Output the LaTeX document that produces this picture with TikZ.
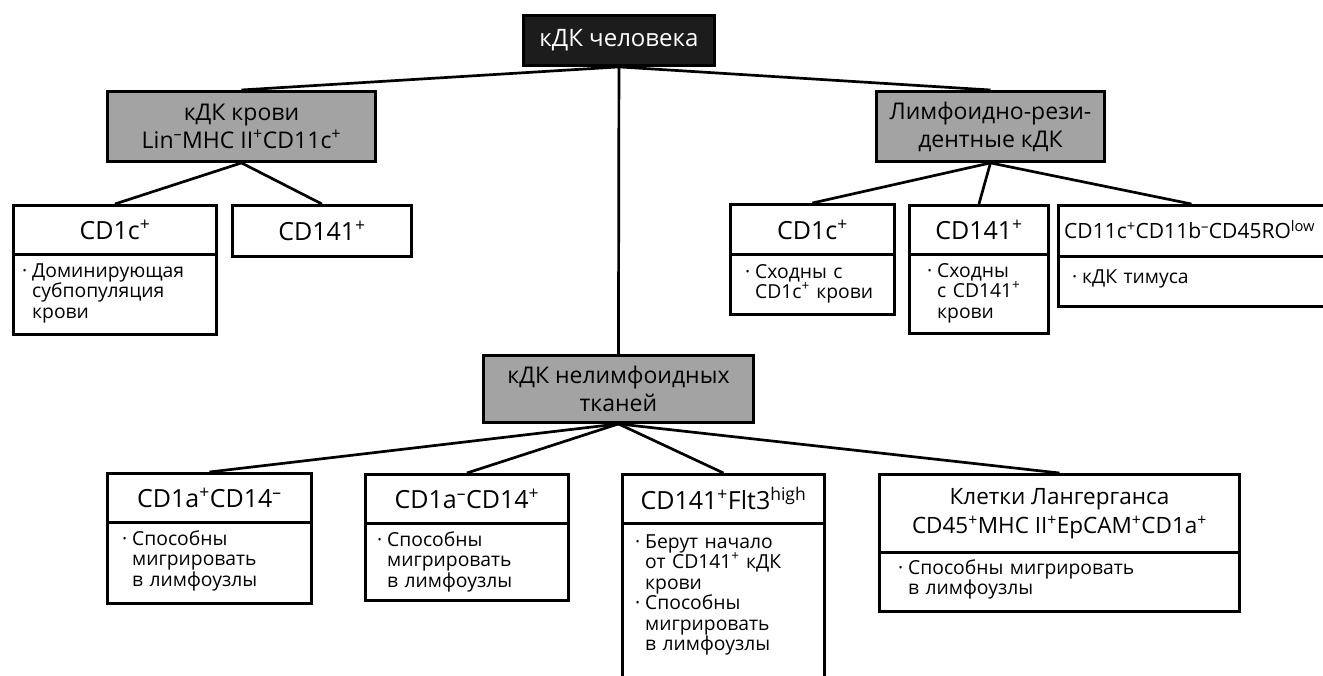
\documentclass[tikz,border=0pt]{standalone}
\usepackage{fontspec}
\setmainfont{Open Sans}
\usetikzlibrary{positioning}
\definecolor{boxgray}{RGB}{163,163,163}
\definecolor{rootblack}{RGB}{28,28,28}
\newcommand{\Pl}{\textsuperscript{+}}
\newcommand{\Mn}{\textsuperscript{–}}
\newcommand{\dotb}{\leavevmode\llap{·\hspace{5pt}}}

\begin{document}
\begin{tikzpicture}[x=1pt, y=-1pt,
  cell/.style={draw, line width=2.9pt, anchor=north west, inner sep=0pt,
    align=center, font={\fontsize{25}{28}\selectfont}},
  grp/.style={cell, fill=boxgray, font={\fontsize{23}{28}\selectfont}},
  note/.style={anchor=base west, inner sep=0pt, align=left, text width=#1,
    font={\fontsize{19.3}{20.5}\selectfont}},
  note/.default=200pt,
  link/.style={line width=2.7pt}]
  \clip (0,0) rectangle (1323,675);
  % top level
  \node[cell, fill=rootblack, text=white, minimum width=191pt, minimum height=50pt,
        font={\fontsize{24}{28}\selectfont}] (root) at (522,14) {кДК человека};
  \node[grp, minimum width=268pt, minimum height=70pt] (blood) at (106,90)
       {кДК крови\\Lin\Mn MHC II\Pl CD11c\Pl};
  \node[grp, minimum width=228pt, minimum height=70pt] (lymph) at (875,90)
       {Лимфоидно-рези-\\дентные кДК};
  \node[grp, minimum width=270pt, minimum height=67pt] (nonl) at (482,354)
       {кДК нелимфоидных\\тканей};
  % blood
  \node[cell, minimum width=203pt, minimum height=49pt] (b1) at (12,204) {CD1c\Pl};
  \node[cell, minimum width=203pt, minimum height=80pt] (b1-box) at (12,253) {};
  \node[note] (b1-txt) at (32,277) {\dotb Доминирующая\\субпопуляция\\крови};
  \node[cell, minimum width=179pt, minimum height=51pt] (b2) at (231,204) {CD141\Pl};
  % lymphoid-resident
  \node[cell, minimum width=164pt, minimum height=50pt] (l1) at (729,203) {CD1c\Pl};
  \node[cell, minimum width=164pt, minimum height=60pt] (l1-box) at (729,253) {};
  \node[note] (l1-txt) at (755,278) {\dotb Сходны с\\CD1c\Pl{} крови};
  \node[cell, minimum width=139pt, minimum height=49pt] (l2) at (908,204) {CD141\Pl};
  \node[cell, minimum width=139pt, minimum height=79pt] (l2-box) at (908,253) {};
  \node[note] (l2-txt) at (937,277) {\dotb Сходны\\с CD141\Pl\\крови};
  \node[cell, minimum width=266pt, minimum height=51pt] (l3) at (1057,204) {};
  \node[anchor=west, inner sep=0pt, font={\fontsize{21}{24}\selectfont}]
       (l3-lbl) at (1064,229.5) {CD11c\Pl CD11b\Mn CD45RO\textsuperscript{low}};
  \node[cell, minimum width=266pt, minimum height=50pt] (l3-box) at (1057,255) {};
  \node[note] (l3-txt) at (1082,283) {\dotb кДК тимуса};
  % non-lymphoid
  \node[cell, minimum width=204pt, minimum height=49pt] (n1) at (106,472) {CD1a\Pl CD14\Mn};
  \node[cell, minimum width=204pt, minimum height=81pt] (n1-box) at (106,521) {};
  \node[note] (n1-txt) at (132,545) {\dotb Способны\\мигрировать\\в лимфоузлы};
  \node[cell, minimum width=203pt, minimum height=49pt] (n2) at (364,473) {CD1a\Mn CD14\Pl};
  \node[cell, minimum width=203pt, minimum height=77pt] (n2-box) at (364,522) {};
  \node[note] (n2-txt) at (387,546) {\dotb Способны\\мигрировать\\в лимфоузлы};
  \node[cell, minimum width=202pt, minimum height=49pt] (n3) at (621,473)
       {CD141\Pl Flt3\textsuperscript{high}};
  \node[cell, minimum width=202pt, minimum height=180pt] (n3-box) at (621,522) {};
  \node[note] (n3-txt) at (645,548)
       {\dotb Берут начало\\от CD141\Pl{} кДК\\крови\\\dotb Способны\\мигрировать\\в лимфоузлы};
  \node[cell, minimum width=360pt, minimum height=78pt, font={\fontsize{22.5}{29}\selectfont}]
       (n4) at (878,473) {Клетки Лангерганса\\CD45\Pl MHC II\Pl EpCAM\Pl CD1a\Pl};
  \node[cell, minimum width=360pt, minimum height=59pt] (n4-box) at (878,551) {};
  \node[note=300pt] (n4-txt) at (908,574) {\dotb Способны мигрировать\\в лимфоузлы};
  % links
  \foreach \t in {blood, nonl, lymph}
    \draw[link] (root.south) -- (\t.north);
  \foreach \t in {b1, b2}
    \draw[link] (blood.south) -- (\t.north);
  \foreach \t in {l1, l2, l3}
    \draw[link] (lymph.south) -- (\t.north);
  \foreach \t in {n1, n2, n3, n4}
    \draw[link] (nonl.south) -- (\t.north);
\end{tikzpicture}
\end{document}
